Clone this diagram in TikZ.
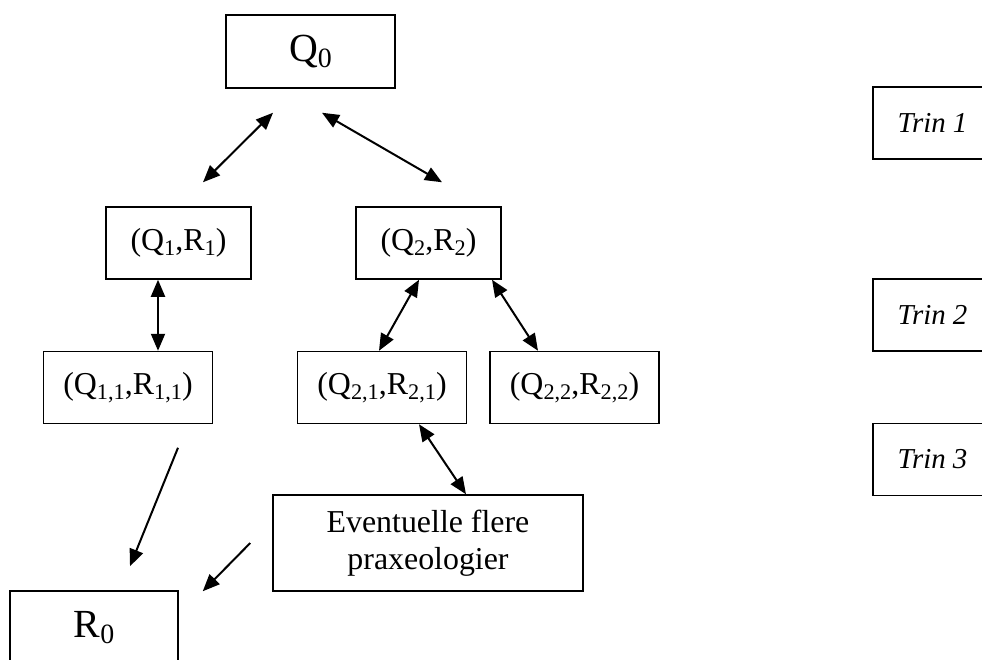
\documentclass[tikz,border=0pt]{standalone}
\usepackage{fontspec}
\usepackage{graphicx}
\setmainfont{Liberation Serif}
\usetikzlibrary{arrows.meta}
\newcommand{\sbs}[1]{\raisebox{-0.16em}{\scalebox{0.7}{#1}}}
\tikzset{gbox/.style={
    rectangle,
    draw,
    line width=1.5bp,
    align=center,
    inner sep=0pt
  },
  topbox/.style={gbox,minimum width=169bp,minimum height=73bp,font=\fontsize{40}{48}\selectfont},
  pairbox/.style={gbox,minimum width=145bp,minimum height=72bp,font=\fontsize{32}{38}\selectfont},
  subbox/.style={pairbox,minimum width=169bp},
  morebox/.style={gbox,minimum width=310bp,minimum height=96bp,font=\fontsize{32}{37}\selectfont},
  trinbox/.style={gbox,minimum width=119bp,minimum height=72bp,font=\fontsize{29}{35}\selectfont\itshape},
  dbl/.style={line width=2bp,{Triangle[length=17bp,width=14bp]}-{Triangle[length=17bp,width=14bp]}},
  sgl/.style={line width=2bp,-{Triangle[length=17bp,width=14bp]}}
}

\begin{document}
\begin{tikzpicture}[x=1bp,y=-1bp]
  \useasboundingbox (0,0) rectangle (982,660);
  \clip (0,0) rectangle (982,660);
  \node[topbox] (q0) at (310.5,51.5) {Q\sbs{0}};
  \node[pairbox] (q1) at (178.5,243) {(Q\sbs{1},R\sbs{1})};
  \node[pairbox] (q2) at (428.5,243) {(Q\sbs{2},R\sbs{2})};
  \node[subbox] (q11) at (128,387.5) {(Q\sbs{1,1},R\sbs{1,1})};
  \node[subbox] (q21) at (382,387.5) {(Q\sbs{2,1},R\sbs{2,1})};
  \node[subbox] (q22) at (574.5,387.5) {(Q\sbs{2,2},R\sbs{2,2})};
  \node[morebox] (ev) at (428,543) {Eventuelle flere\\praxeologier};
  \node[topbox,minimum width=168bp] (r0) at (94,627.5) {R\sbs{0}};
  \node[trinbox] (t1) at (932.5,123) {Trin 1};
  \node[trinbox] (t2) at (932.5,315) {Trin 2};
  \node[trinbox] (t3) at (932.5,459.5) {Trin 3};
  \draw[dbl] ([shift={(-37.5,24)}]q0.south) -- ([shift={(24.5,-24)}]q1.north);
  \draw[dbl] ([shift={(11.5,24)}]q0.south) -- ([shift={(13.5,-24)}]q2.north);
  \draw[dbl] ([shift={(-20.5,0)}]q1.south) -- ([shift={(30,0)}]q11.north);
  \draw[dbl] ([shift={(-9.5,0)}]q2.south) -- ([shift={(-3,0)}]q21.north);
  \draw[dbl] ([shift={(63.5,0)}]q2.south) -- ([shift={(-36.5,0)}]q22.north);
  \draw[dbl] ([shift={(37,0)}]q21.south) -- ([shift={(38,0)}]ev.north);
  \draw[sgl] ([shift={(50,23.5)}]q11.south) -- ([shift={(36,-24)}]r0.north);
  \draw[sgl] ([shift={(-22,0)}]ev.west) -- ([shift={(24,1)}]r0.north east);
\end{tikzpicture}
\end{document}
